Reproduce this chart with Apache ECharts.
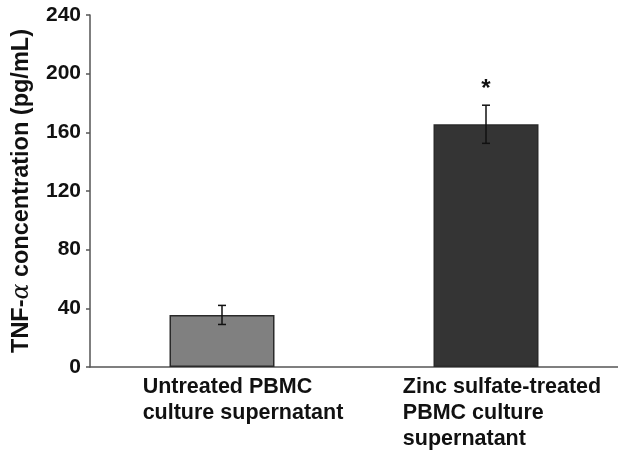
<!DOCTYPE html>
<html>
<head>
<meta charset="utf-8">
<script src="https://cdn.jsdelivr.net/npm/echarts@6/dist/echarts.min.js"></script>
<style>
  html, body { margin: 0; padding: 0; background: #fff; }
  #chart { width: 618px; height: 452px; }
</style>
</head>
<body>
<div id="chart"></div>
<script>
// Group labels (one entry per bar), mean TNF-alpha values, SD and significance marks
const categories = [
  'Untreated PBMC\nculture supernatant',
  'Zinc sulfate-treated\nPBMC culture\nsupernatant'
];
const means = [35.5, 165.5];
const errors = [6.5, 13];
const marks = ['', '*'];
const barColors = ['#808080', '#343434'];
const yTicks = { min: 0, max: 240, step: 40 };

const FONT = '"Liberation Sans", Arial, sans-serif';

const chart = echarts.init(document.getElementById('chart'), null, { renderer: 'canvas' });

const labelBase = { fontFamily: FONT, fontWeight: 'bold', fontSize: 21.5, lineHeight: 26, color: '#111', align: 'left' };

chart.setOption({
  animation: false,
  backgroundColor: '#ffffff',
  grid: { left: 90, right: 0, top: 15, bottom: 85, containLabel: false },
  xAxis: {
    type: 'category',
    data: categories,
    axisLine: { show: true, lineStyle: { color: '#555', width: 1.5 } },
    axisTick: { show: false },
    axisLabel: {
      interval: 0,
      margin: 7,
      formatter: function (value, idx) {
        const key = idx === 0 ? 'a' : 'b';
        return value.split('\n').map(function (line) {
          return '{' + key + '|' + line + '}';
        }).join('\n');
      },
      rich: {
        a: Object.assign({}, labelBase, { padding: [0, 0, 0, 42] }),
        b: Object.assign({}, labelBase, { padding: [0, 0, 0, 32] })
      }
    }
  },
  yAxis: {
    type: 'value',
    min: yTicks.min,
    max: yTicks.max,
    interval: yTicks.step,
    name: '{t|TNF-}{g|α}{t| concentration (pg/mL)}',
    nameLocation: 'middle',
    nameGap: 56,
    nameTextStyle: {
      rich: {
        t: { fontFamily: FONT, fontWeight: 'bold', fontSize: 23.5, color: '#111' },
        g: { fontFamily: '"DejaVu Serif", serif', fontStyle: 'italic', fontSize: 23.5, color: '#111' }
      }
    },
    axisLine: { show: true, lineStyle: { color: '#555', width: 1.5 } },
    axisTick: { show: true, inside: false, length: 4, lineStyle: { color: '#555', width: 1.5 } },
    splitLine: { show: false },
    axisLabel: {
      margin: 9,
      fontFamily: FONT,
      fontWeight: 'bold',
      fontSize: 21,
      color: '#111'
    }
  },
  series: [
    {
      type: 'bar',
      barWidth: 105,
      data: means.map(function (v, i) {
        return {
          value: v,
          itemStyle: { color: barColors[i], borderColor: '#2a2a2a', borderWidth: 1.5 }
        };
      }),
      z: 2
    },
    {
      // SD whiskers and significance marks above them
      type: 'custom',
      z: 3,
      data: means.map(function (v, i) { return [i, v, errors[i]]; }),
      renderItem: function (params, api) {
        const i = api.value(0);
        const m = api.value(1);
        const e = api.value(2);
        const top = api.coord([i, m + e]);
        const bot = api.coord([i, m - e]);
        const cap = 4;
        const style = { stroke: '#111', lineWidth: 1.5 };
        const children = [
          { type: 'line', shape: { x1: top[0], y1: top[1], x2: bot[0], y2: bot[1] }, style: style },
          { type: 'line', shape: { x1: top[0] - cap, y1: top[1], x2: top[0] + cap, y2: top[1] }, style: style },
          { type: 'line', shape: { x1: bot[0] - cap, y1: bot[1], x2: bot[0] + cap, y2: bot[1] }, style: style }
        ];
        const mark = marks[params.dataIndex];
        if (mark) {
          children.push({
            type: 'text',
            style: {
              text: mark,
              x: top[0],
              y: top[1] - 4,
              align: 'center',
              verticalAlign: 'bottom',
              font: 'bold 24px ' + FONT,
              fill: '#111'
            }
          });
        }
        return { type: 'group', children: children };
      }
    }
  ]
});
</script>
</body>
</html>
